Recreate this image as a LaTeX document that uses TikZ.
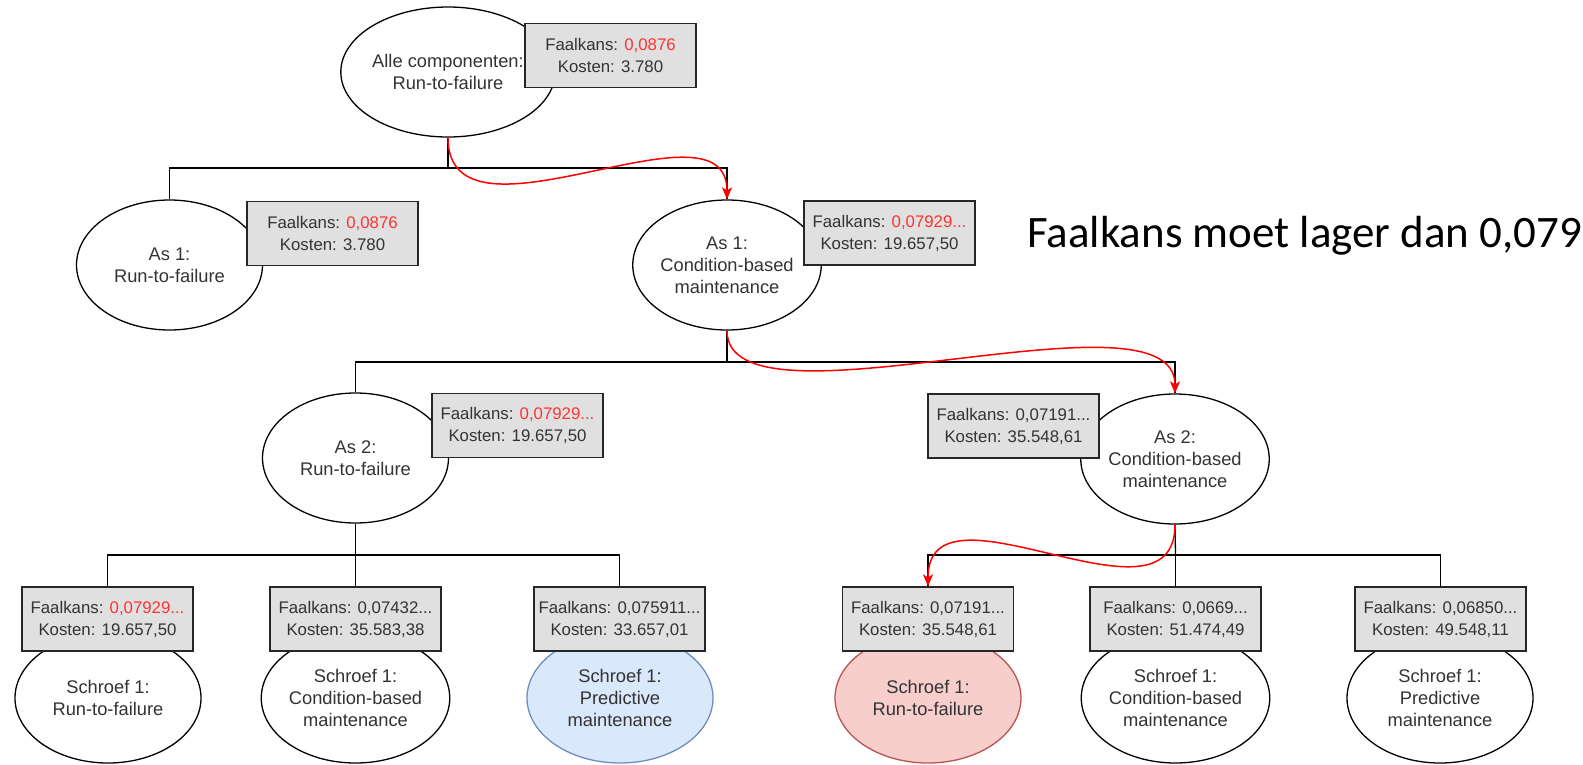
\documentclass[tikz,border=0pt]{standalone}
\usepackage{fontspec}
\setmainfont{Liberation Sans}
\newfontfamily\calib{Carlito}
\usetikzlibrary{shapes.geometric,arrows.meta}
\definecolor{boxfill}{HTML}{E0E0E0}
\definecolor{txt}{HTML}{333333}
\definecolor{fred}{HTML}{FF3333}
\definecolor{bluefill}{HTML}{DAE8FC}
\definecolor{blueline}{HTML}{6C8EBF}
\definecolor{redfill}{HTML}{F8CECC}
\definecolor{redline}{HTML}{B85450}
\tikzset{
  choice/.style={ellipse, draw=black, line width=1.3pt, fill=white,
    minimum width=186pt, minimum height=130pt, inner sep=0pt,
    align=center, text=txt, font=\fontsize{18.3}{22}\selectfont},
  infobox/.style={rectangle, draw=black!85, line width=1.3pt, fill=boxfill,
    minimum width=171pt, minimum height=64pt, inner sep=0pt,
    align=center, text=txt, font=\fontsize{16.8}{22}\selectfont},
  tree/.style={draw=black, line width=1.3pt},
  route/.style={draw=red, line width=1.5pt,
    -{Stealth[length=12pt,width=10pt,inset=3pt]}},
}
\newcommand{\hl}[1]{\textcolor{fred}{#1}}
\begin{document}
\begin{tikzpicture}[x=1pt,y=-1pt]
\useasboundingbox (0,0) rectangle (1583,764);

% ellipses (strategy choices)
\node[choice] (e0) at (448,72) {Alle componenten:\\Run-to-failure};
\node[choice] (e1a) at (169.5,265) {As 1:\\Run-to-failure};
\node[choice] (e1b) at (727,265) {As 1:\\Condition-based\\maintenance};
\node[choice] (e2a) at (355.5,458) {As 2:\\Run-to-failure};
\node[choice] (e2b) at (1175,459) {As 2:\\Condition-based\\maintenance};
\node[choice] (e3a) at (108,698) {Schroef 1:\\Run-to-failure};
\node[choice] (e3b) at (355.5,698) {Schroef 1:\\Condition-based\\maintenance};
\node[choice, fill=bluefill, draw=blueline] (e3c) at (620,698) {Schroef 1:\\Predictive\\maintenance};
\node[choice, fill=redfill, draw=redline] (e3d) at (928,698) {Schroef 1:\\Run-to-failure};
\node[choice] (e3e) at (1175.5,698) {Schroef 1:\\Condition-based\\maintenance};
\node[choice] (e3f) at (1440,698) {Schroef 1:\\Predictive\\maintenance};

% result boxes
\node[infobox] (b0) at (610.5,55.5) {Faalkans: \hl{0,0876}\\Kosten: 3.780};
\node[infobox] (b1a) at (332.5,233.5) {Faalkans: \hl{0,0876}\\Kosten: 3.780};
\node[infobox] (b1b) at (889.5,233) {Faalkans: \hl{0,07929...}\\Kosten: 19.657,50};
\node[infobox] (b2a) at (517.5,425.5) {Faalkans: \hl{0,07929...}\\Kosten: 19.657,50};
\node[infobox] (b2b) at (1013.5,426) {Faalkans: 0,07191...\\Kosten: 35.548,61};
\node[infobox] (b3a) at (107.5,619) {Faalkans: \hl{0,07929...}\\Kosten: 19.657,50};
\node[infobox] (b3b) at (355.5,619) {Faalkans: 0,07432...\\Kosten: 35.583,38};
\node[infobox] (b3c) at (619.5,619) {Faalkans: 0,075911...\\Kosten: 33.657,01};
\node[infobox] (b3d) at (928,619) {Faalkans: 0,07191...\\Kosten: 35.548,61};
\node[infobox] (b3e) at (1175.5,619) {Faalkans: 0,0669...\\Kosten: 51.474,49};
\node[infobox] (b3f) at (1440.5,619) {Faalkans: 0,06850...\\Kosten: 49.548,11};

% tree connectors
\coordinate (j1) at (448,168);
\coordinate (j2) at (727,362);
\coordinate (j3a) at (355.5,555);
\coordinate (j3b) at (1175.5,555);
\draw[tree] (e0.south) -- (j1);
\draw[tree] (e1a.north) |- (j1) -| (e1b.north);
\draw[tree] (e1b.south) -- (j2);
\draw[tree] (e2a.north) |- (j2) -| (e2b.north);
\draw[tree] (e2a.south) -- (j3a);
\draw[tree] (b3a.north) |- (j3a) -| (b3c.north);
\draw[tree] (j3a) -- (b3b.north);
\draw[tree] (e2b.south) -- (j3b);
\draw[tree] (b3d.north) |- (j3b) -| (b3f.north);
\draw[tree] (j3b) -- (b3e.north);

% chosen route
\draw[route] (e0.south) .. controls (448,260) and (727,90) .. (e1b.north);
\draw[route] (e1b.south) .. controls (727,440) and (1175,280) .. (e2b.north);
\draw[route] (e2b.south) .. controls (1175,640) and (928,470) .. (b3d.north);

% requirement
\node[anchor=west, inner sep=0pt, font=\calib\fontsize{45}{52}\selectfont] (req) at (1027,236) {Faalkans moet lager dan 0,079};
\end{tikzpicture}
\end{document}
